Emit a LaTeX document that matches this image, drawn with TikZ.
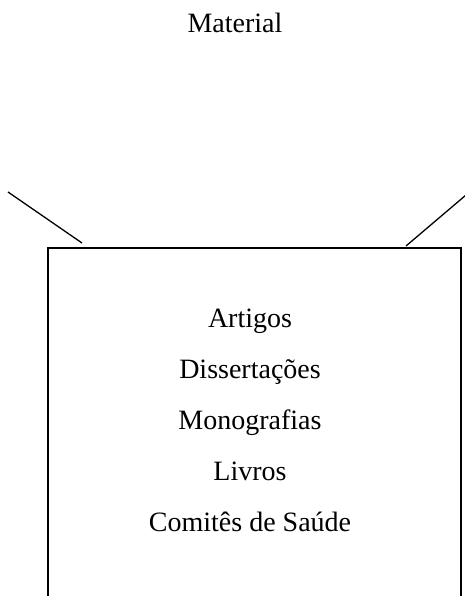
\documentclass[tikz,border=0pt]{standalone}
\usepackage{fontspec}
\setmainfont{Liberation Serif}
\begin{document}
\begin{tikzpicture}[x=1pt,y=-1pt,
  lbl/.style={anchor=base,inner sep=0pt,font=\fontsize{28}{30}\selectfont},
  thin line/.style={line width=1.3pt},
  boxline/.style={line width=2.6pt}]
\useasboundingbox (0,0) rectangle (464,596);
\node[lbl] (title) at (235,33) {Material};
\coordinate (l1) at (8,192);
\coordinate (l2) at (82,243);
\coordinate (r1) at (466,195);
\coordinate (r2) at (406,246);
\draw[thin line] (l1) -- (l2);
\draw[thin line] (r1) -- (r2);
\coordinate (bl) at (48,600);
\coordinate (tl) at (48,248);
\coordinate (tr) at (461,248);
\coordinate (br) at (461,600);
\draw[boxline] (bl) -- (tl) -- (tr) -- (br);
\node[lbl] (a) at (250,327) {Artigos};
\node[lbl] (b) at (250,378) {Dissertações};
\node[lbl] (c) at (250,429) {Monografias};
\node[lbl] (d) at (250,480) {Livros};
\node[lbl] (e) at (250,531) {Comitês de Saúde};
\end{tikzpicture}
\end{document}
